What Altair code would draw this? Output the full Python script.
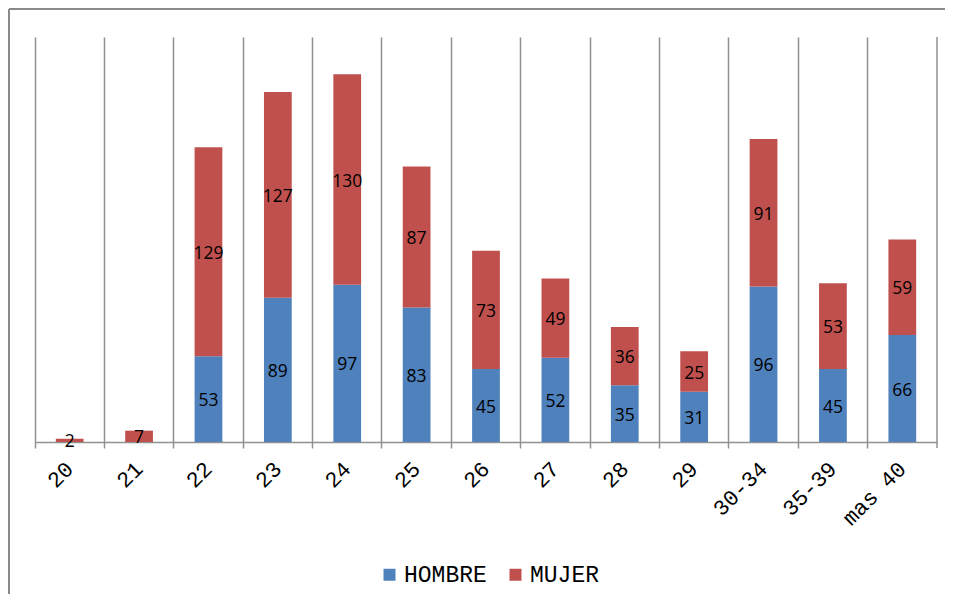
import altair as alt
import pandas as pd

categories = ["20", "21", "22", "23", "24", "25", "26", "27", "28", "29", "30-34", "35-39", "mas 40"]
hombre = [0, 0, 53, 89, 97, 83, 45, 52, 35, 31, 96, 45, 66]
mujer = [2, 7, 129, 127, 130, 87, 73, 49, 36, 25, 91, 53, 59]
series = ["HOMBRE", "MUJER"]
colors = ["#4F81BD", "#C0504D"]

rows = []
for i, c in enumerate(categories):
    rows.append({"edad": c, "sexo": "HOMBRE", "valor": hombre[i], "orden": 0})
    rows.append({"edad": c, "sexo": "MUJER", "valor": mujer[i], "orden": 1})
df = pd.DataFrame(rows)

W, H = 902, 405
GRID = "#919191"

base = alt.Chart(df).transform_stack(
    stack="valor", groupby=["edad"], as_=["y0", "y1"], sort=[alt.SortField("orden")]
).transform_calculate(mid="(datum.y0 + datum.y1) / 2")

x = alt.X(
    "edad:N",
    sort=categories,
    scale=alt.Scale(paddingInner=0, paddingOuter=0),
    axis=alt.Axis(
        title=None,
        bandPosition=0,
        labelAngle=-45,
        labelAlign="right",
        labelBaseline="middle",
        labelFont="Liberation Mono",
        labelFontSize=22,
        labelColor="#000000",
        labelPadding=17,
        tickSize=6,
        tickColor=GRID,
        tickWidth=1.5,
        domainColor=GRID,
        domainWidth=1.5,
        grid=True,
        gridColor=GRID,
        gridWidth=1.5,
    ),
)

bars = base.mark_bar(width=alt.RelativeBandSize(0.4)).encode(
    x=x,
    y=alt.Y("y0:Q", scale=alt.Scale(domain=[0, 250]), axis=None),
    y2="y1:Q",
    color=alt.Color(
        "sexo:N",
        scale=alt.Scale(domain=series, range=colors),
        legend=alt.Legend(
            title=None,
            orient="none",
            legendX=343,
            legendY=526,
            direction="horizontal",
            symbolType="square",
            symbolSize=144,
            symbolStrokeWidth=0,
            labelFont="Liberation Mono",
            labelFontSize=23,
            labelColor="#000000",
            labelOffset=3,
            columnPadding=17,
            padding=0,
        ),
    ),
)

labels = base.transform_filter("datum.valor > 0").mark_text(
    font="Open Sans", fontSize=17.5, color="#000000", baseline="middle", align="center", dy=2
).encode(x=x, y=alt.Y("mid:Q", scale=alt.Scale(domain=[0, 250]), axis=None), text="valor:Q")

one = pd.DataFrame({"k": [0]})
right_grid = alt.Chart(one).mark_rule(color=GRID, strokeWidth=1.5).encode(
    x=alt.value(W), y=alt.value(0), y2=alt.value(H + 6)
)
border_top = alt.Chart(one).mark_rule(color="#8a8a8a", strokeWidth=2).encode(
    x=alt.value(-26), x2=alt.value(960), y=alt.value(-28)
)
border_left = alt.Chart(one).mark_rule(color="#8a8a8a", strokeWidth=2).encode(
    x=alt.value(-26), y=alt.value(-28), y2=alt.value(620)
)

chart = alt.layer(border_top, border_left, right_grid, bars, labels).properties(
    width=W,
    height=H,
    padding={"left": 27, "top": 29, "right": 8, "bottom": 152},
    autosize=alt.AutoSizeParams(type="none"),
).configure_view(stroke=None)

chart.save("out.html", embed_options={"renderer": "svg", "actions": False})
